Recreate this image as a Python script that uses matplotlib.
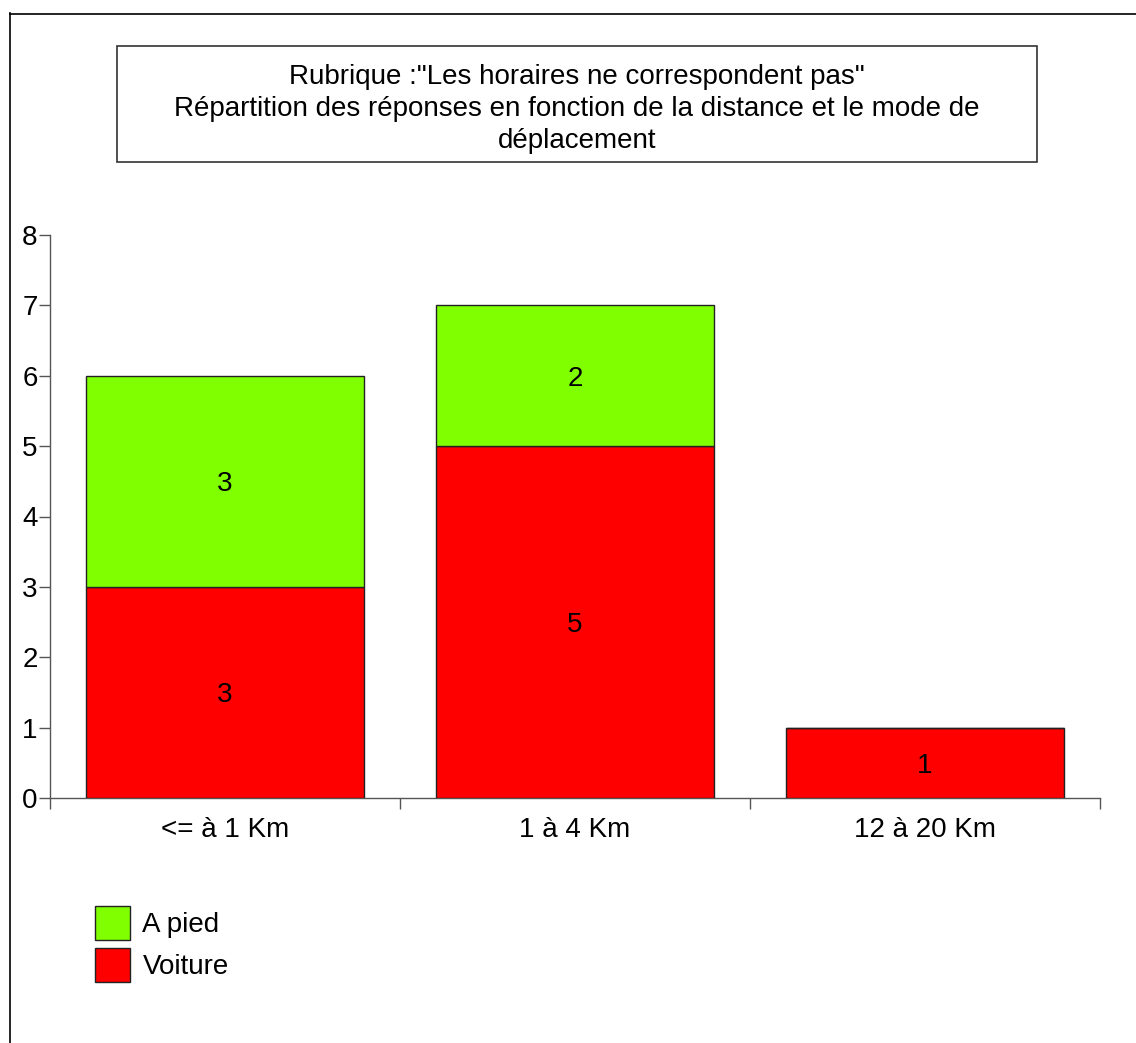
import matplotlib
matplotlib.use("Agg")
import matplotlib.pyplot as plt
from matplotlib.patches import Rectangle, Patch
from matplotlib.lines import Line2D
import numpy as np

plt.rcParams['font.family'] = ['Liberation Sans', 'DejaVu Sans']

categories = ["<= à 1 Km", "1 à 4 Km", "12 à 20 Km"]
voiture = [3, 5, 1]
a_pied = [3, 2, 0]
series_names = ["A pied", "Voiture"]
yticks = [0, 1, 2, 3, 4, 5, 6, 7, 8]
title_lines = ['Rubrique :"Les horaires ne correspondent pas"',
               'Répartition des réponses en fonction de la distance et le mode de',
               'déplacement']

FS = 20
W, H = 1136, 1043
fig = plt.figure(figsize=(W / 100, H / 100), dpi=100)

def fx(px):
    return px / W

def fy(py):
    return 1 - py / H

# outer border (left and top visible)
fig.add_artist(Line2D([fx(9.5), fx(9.5)], [fy(13), 0], color='black', lw=1.2))
fig.add_artist(Line2D([fx(9.5), 1], [fy(13.5), fy(13.5)], color='black', lw=1.2))

# title box
fig.add_artist(Rectangle((fx(117), fy(162)), fx(1037) - fx(117), fy(46) - fy(162),
                         fill=False, edgecolor='#333333', lw=1.2))
fig.text(fx(577), fy(108.5), "\n".join(title_lines), ha='center', va='center',
         fontsize=FS, linespacing=1.3)

ax = fig.add_axes([fx(50), fy(798), fx(1100) - fx(50), fy(235) - fy(798)])
x = np.arange(len(categories))
green = '#80FF00'
red = '#FF0000'
ax.bar(x, voiture, width=0.795, color=red, edgecolor='#222222', lw=1.0, zorder=3)
ax.bar(x, a_pied, width=0.795, bottom=voiture, color=green, edgecolor='#222222', lw=1.0, zorder=3)

for i in range(len(categories)):
    if voiture[i] > 0:
        ax.text(x[i], voiture[i] / 2, str(voiture[i]), ha='center', va='center_baseline', fontsize=FS, zorder=4)
    if a_pied[i] > 0:
        ax.text(x[i], voiture[i] + a_pied[i] / 2, str(a_pied[i]), ha='center', va='center_baseline', fontsize=FS, zorder=4)

ax.set_xlim(-0.5, len(categories) - 0.5)
ax.set_ylim(0, 8)
for s in ['top', 'right']:
    ax.spines[s].set_visible(False)
for s in ['left', 'bottom']:
    ax.spines[s].set_color('#555555')
    ax.spines[s].set_linewidth(1.0)

ax.set_yticks(yticks)
ax.set_yticklabels([str(t) for t in yticks], fontsize=FS)
ax.tick_params(axis='y', length=8, width=1.0, color='#555555', pad=1)

ax.set_xticks(np.arange(len(categories) + 1) - 0.5)
ax.set_xticklabels([''] * (len(categories) + 1))
ax.tick_params(axis='x', which='major', length=8, width=1.0, color='#555555')
ax.set_xticks(x, minor=True)
ax.set_xticklabels(categories, minor=True, fontsize=FS)
ax.tick_params(axis='x', which='minor', length=0, pad=14)

handles = [Patch(facecolor=green, edgecolor='#222222', lw=1.0),
           Patch(facecolor=red, edgecolor='#222222', lw=1.0)]
fig.legend(handles, series_names, loc='upper left',
           bbox_to_anchor=(fx(95), fy(906)), borderaxespad=0, borderpad=0,
           frameon=False, fontsize=FS, handlelength=1.26, handleheight=1.5,
           labelspacing=0.3, handletextpad=0.45)

fig.savefig("out.png", dpi=100)
